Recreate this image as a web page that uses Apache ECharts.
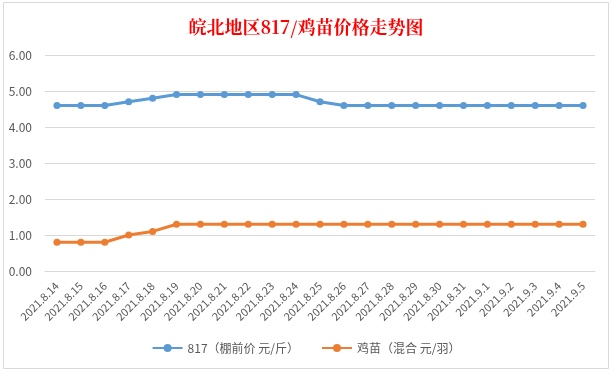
<!DOCTYPE html>
<html><head><meta charset="utf-8">
<script src="https://cdn.jsdelivr.net/npm/echarts@6/dist/echarts.min.js"></script>
<style>html,body{margin:0;padding:0;background:#fff}#c{width:612px;height:371px}</style>
</head><body><div id="c"></div>
<script>
const titleText = '皖北地区817/鸡苗价格走势图';
const categories = ['2021.8.14','2021.8.15','2021.8.16','2021.8.17','2021.8.18','2021.8.19','2021.8.20','2021.8.21','2021.8.22','2021.8.23','2021.8.24','2021.8.25','2021.8.26','2021.8.27','2021.8.28','2021.8.29','2021.8.30','2021.8.31','2021.9.1','2021.9.2','2021.9.3','2021.9.4','2021.9.5'];
const seriesNames = ['817（棚前价 元/斤）','鸡苗（混合 元/羽）'];
const s817 = [4.6,4.6,4.6,4.7,4.8,4.9,4.9,4.9,4.9,4.9,4.9,4.7,4.6,4.6,4.6,4.6,4.6,4.6,4.6,4.6,4.6,4.6,4.6];
const sChick = [0.8,0.8,0.8,1.0,1.1,1.3,1.3,1.3,1.3,1.3,1.3,1.3,1.3,1.3,1.3,1.3,1.3,1.3,1.3,1.3,1.3,1.3,1.3];
const yTicks = [0,1,2,3,4,5,6];

const chart = echarts.init(document.getElementById('c'));
const font = '"Microsoft YaHei","Noto Sans CJK SC","Noto Sans",sans-serif';
chart.setOption({
  animation: false,
  backgroundColor: '#fff',
  graphic: [{type:'rect', shape:{x:3.5,y:2.5,width:605,height:366}, style:{fill:'none',stroke:'#d9d9d9',lineWidth:1}, z:-1}],
  title: {text: titleText, left: 'center', top: 13,
    textStyle: {color:'#ff0000', fontSize:18, fontWeight:'bold', fontFamily:'"Noto Serif CJK SC","Noto Sans CJK SC",serif'}},
  legend: {bottom: 12, left:'center', itemWidth: 30, itemHeight: 10, itemGap: 22,
    textStyle: {color:'#595959', fontSize:12, fontFamily: font},
    data: seriesNames},
  grid: {left: 45, right: 17, top: 55, bottom: 100, containLabel: false},
  xAxis: {type:'category', data: categories, boundaryGap: true,
    axisLine: {lineStyle:{color:'#d9d9d9'}}, axisTick:{show:false},
    axisLabel: {rotate: 45, color:'#595959', fontSize: 11, fontFamily: font, interval: 0, margin: 13}},
  yAxis: {type:'value', min: yTicks[0], max: yTicks[yTicks.length-1], interval: 1,
    axisLine:{show:false}, axisTick:{show:false},
    splitLine: {lineStyle:{color:'#d9d9d9'}},
    axisLabel: {color:'#595959', fontSize: 12, fontFamily: font, margin: 13, formatter: v => v.toFixed(2)}},
  series: [
    {name: seriesNames[0], type:'line', data: s817, symbol:'circle', symbolSize:7,
      lineStyle:{width:3, color:'#5b9bd5'}, itemStyle:{color:'#5b9bd5'}},
    {name: seriesNames[1], type:'line', data: sChick, symbol:'circle', symbolSize:7,
      lineStyle:{width:3, color:'#ed7d31'}, itemStyle:{color:'#ed7d31'}}
  ]
});
</script></body></html>
